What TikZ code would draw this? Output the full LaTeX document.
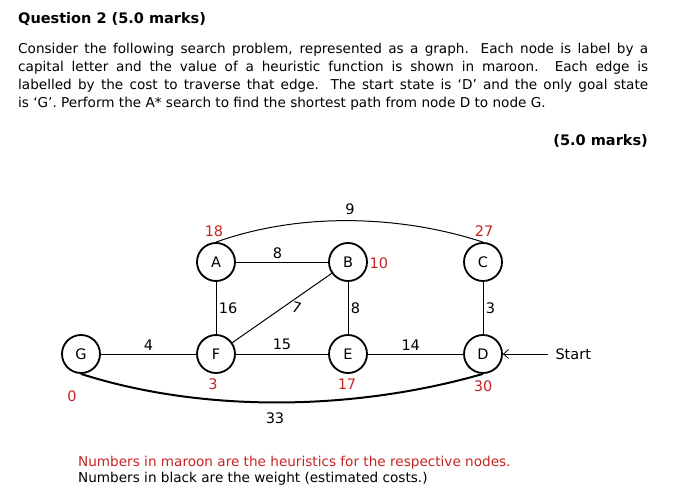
\documentclass[tikz,border=0pt]{standalone}
\usepackage{fontspec}
\setmainfont{DejaVu Sans}
\usetikzlibrary{arrows.meta}
\definecolor{maroon}{RGB}{200,35,35}
\begin{document}
\begin{tikzpicture}[x=1pt,y=-1pt,
  nd/.style={circle,draw,line width=1.8pt,minimum size=38pt,inner sep=0pt,font=\fontsize{14.5}{14}\selectfont},
  ed/.style={line width=1pt},
  hv/.style={text=maroon,font=\fontsize{14.5}{14}\selectfont},
  wt/.style={font=\fontsize{14.5}{14}\selectfont}]
\useasboundingbox (0,0) rectangle (675,503);
\node[anchor=west,inner sep=0pt,font=\fontsize{14.5}{14}\selectfont\bfseries] (q) at (18,19) {Question 2 (5.0 marks)};
\node[anchor=north west,inner sep=0pt,text width=630pt,align=justify,font=\fontsize{13.6}{18}\selectfont] (p) at (18,43) {Consider the following search problem, represented as a graph. Each node is label by a\linebreak capital letter and the value of a heuristic function is shown in maroon. Each edge is\linebreak labelled by the cost to traverse that edge. The start state is `D' and the only goal state\linebreak is `G'. Perform the A* search to find the shortest path from node D to node G.};
\node[anchor=east,inner sep=0pt,font=\fontsize{14.5}{14}\selectfont\bfseries] (m) at (648,141) {(5.0 marks)};
\node[nd] (A) at (216,262) {A};
\node[nd] (B) at (348,262) {B};
\node[nd] (C) at (483,262) {C};
\node[nd] (G) at (81,354) {G};
\node[nd] (F) at (216,354) {F};
\node[nd] (E) at (348,354) {E};
\node[nd] (D) at (483,354) {D};
\draw[ed] (A) -- node[wt,above=-1pt,pos=0.45] {8} (B);
\draw[ed] (A) -- node[wt,right=-1pt] {16} (F);
\draw[ed] (F) -- node[wt,pos=0.62,below right=-3pt,rotate=-15] {7} (B);
\draw[ed] (B) -- node[wt,right=-1pt] {8} (E);
\draw[ed] (C) -- node[wt,right=-1pt] {3} (D);
\draw[ed] (G) -- node[wt,above=0pt] {4} (F);
\draw[ed] (F) -- node[wt,above=0pt] {15} (E);
\draw[ed] (E) -- node[wt,above=0pt,pos=0.45] {14} (D);
\draw[ed] (A.north) .. controls (300,212) and (400,215) .. node[wt,pos=0.5,above=2pt] {9} (C.north);
\draw[line width=2pt] (G.south) .. controls (200,412) and (350,412) .. (D.south);
\node[wt] (w33) at (275,418) {33};
\coordinate (s) at (548,354);
\draw[-{Straight Barb[length=5pt,width=9pt]},line width=0.8pt] (s) -- (D);
\node[wt,anchor=west] (st) at (552,354) {Start};
\node[hv] (hA) at (214,231) {18};
\node[hv] (hC) at (484,231) {27};
\node[hv,anchor=west] (hB) at (366,263) {10};
\node[hv] (hG) at (72,396) {0};
\node[hv] (hF) at (213,384) {3};
\node[hv] (hE) at (347,384) {17};
\node[hv] (hD) at (483,386) {30};
\node[anchor=north west,inner sep=0pt,align=left,font=\fontsize{13.6}{16}\selectfont] (n) at (78,456) {\textcolor{maroon}{Numbers in maroon are the heuristics for the respective nodes.}\\Numbers in black are the weight (estimated costs.)};
\end{tikzpicture}
\end{document}
